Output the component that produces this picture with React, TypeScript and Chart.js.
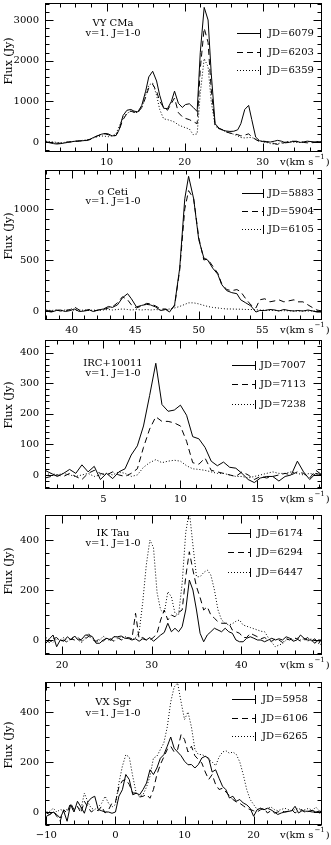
import React, { useEffect, useRef } from "react";
import { Chart, registerables } from "chart.js";

Chart.register(...registerables);

// ---------- Panel 1: VY CMa ----------
const vyCmaVelocity = [2.2,2.7,3.2,3.6,4.1,4.6,5.0,5.5,6.0,6.5,6.9,7.4,7.9,8.3,8.8,9.3,9.8,10.2,10.7,11.2,11.6,12.1,12.6,13.1,13.5,14.0,14.5,15.0,15.4,15.9,16.4,16.8,17.3,17.8,18.3,18.7,19.2,19.7,20.1,20.6,21.1,21.6,22.0,22.5,23.0,23.4,23.9,24.4,24.9,25.3,25.8,26.3,26.8,27.2,27.7,28.2,28.6,29.1,29.6,30.1,30.5,31.0,31.5,31.9,32.4,32.9,33.4,33.8,34.3,34.8,35.2,35.7,36.2,36.7,37.1,37.6];
const vyCmaJD6079 = [0,-20,-40,-50,-40,-25,-10,5,20,30,30,40,70,110,150,190,210,200,150,160,300,650,780,800,760,740,900,1250,1600,1740,1500,1150,830,820,1000,1250,950,850,920,940,850,750,2200,3310,3000,1700,450,340,290,270,260,265,300,450,800,900,550,120,30,10,0,0,20,40,20,-20,-10,10,20,-10,0,20,10,0,10,0];
const vyCmaJD6203 = [0,-10,-20,-30,-30,-15,0,5,15,20,30,35,60,100,150,180,200,180,150,160,300,550,700,760,730,730,850,1100,1330,1420,1250,1000,850,780,950,1080,720,620,580,550,500,450,1800,2800,2450,1300,400,330,300,250,220,200,180,150,170,200,130,60,10,20,10,-10,-40,-60,-40,-10,10,20,10,0,-10,-20,-20,-10,0,0];
const vyCmaJD6359 = [20,10,0,-10,-20,-10,0,10,20,30,40,50,70,100,130,150,140,130,150,200,380,600,700,760,740,720,850,1150,1400,1450,1150,800,570,550,520,490,420,380,350,320,180,200,1200,2050,1850,1000,400,320,290,250,220,190,150,110,100,110,110,70,30,0,-10,-40,-50,-40,-20,0,10,0,-10,-10,0,10,0,-10,0,10];

// ---------- Panel 2: o Ceti ----------
const oCetiVelocity = [38.0,38.4,38.8,39.1,39.5,39.9,40.2,40.6,41.0,41.4,41.7,42.1,42.5,42.9,43.2,43.6,44.0,44.4,44.7,45.1,45.5,45.9,46.2,46.6,47.0,47.4,47.7,48.1,48.5,48.9,49.2,49.6,50.0,50.4,50.7,51.1,51.5,51.8,52.2,52.6,53.0,53.3,53.7,54.1,54.5,54.8,55.2,55.6,56.0,56.3,56.7,57.1,57.5,57.8,58.2,58.6,59.0,59.3,59.7];
const oCetiJD5883 = [0,-10,5,10,-5,5,20,-5,0,10,-5,10,20,45,35,60,130,170,120,40,55,65,60,40,5,15,-10,60,420,1100,1320,1100,700,520,500,420,360,260,200,180,170,110,80,50,-10,5,5,15,10,0,15,5,0,5,0,10,0,-10,-10];
const oCetiJD5904 = [5,0,10,0,5,15,40,10,5,15,0,10,15,30,40,80,140,110,60,30,50,75,70,50,20,20,0,50,400,1000,1180,1100,720,500,510,440,370,270,210,200,210,190,120,60,30,110,120,90,100,110,90,100,110,90,90,60,30,10,0];
const oCetiJD6105 = [10,5,10,5,10,5,10,5,10,5,10,5,10,15,10,15,20,15,10,15,10,15,10,15,10,15,20,30,45,65,80,80,70,55,45,35,30,25,20,20,18,18,15,15,12,10,8,5,5,3,3,2,0,0,0,0,0,0,0];

// ---------- Panel 3: IRC+10011 ----------
const ircVelocity = [1.2,1.6,2.0,2.4,2.8,3.2,3.6,4.0,4.4,4.8,5.2,5.6,6.0,6.4,6.8,7.2,7.6,8.0,8.4,8.8,9.2,9.6,10.0,10.4,10.8,11.2,11.6,12.0,12.4,12.8,13.2,13.6,14.0,14.4,14.8,15.2,15.6,16.0,16.4,16.8,17.2,17.6,18.0,18.4,18.8,19.2];
const ircJD7007 = [15,5,-5,5,18,5,33,10,28,-15,5,-12,10,20,65,95,160,260,365,230,208,212,228,195,125,118,90,45,30,42,25,22,5,-15,-25,-10,-5,-5,-20,-5,0,45,10,-15,5,0];
const ircJD7113 = [-10,-5,0,-5,5,-5,-15,5,15,5,0,10,0,-5,5,20,90,150,190,175,175,170,160,110,40,35,55,15,10,5,0,-5,10,0,-15,-5,-10,-5,0,5,0,10,5,-10,15,0];
const ircJD7238 = [0,5,0,5,0,-5,0,5,-5,0,5,0,10,5,-5,0,25,40,50,40,45,48,45,30,20,18,15,10,5,5,0,-5,-5,-10,-5,0,5,10,5,5,10,5,0,5,0,5];

// ---------- Panel 4: IK Tau ----------
const ikTauVelocity = [18.2,18.6,19.0,19.4,19.8,20.2,20.6,21.0,21.4,21.8,22.2,22.6,23.0,23.4,23.8,24.2,24.6,25.0,25.4,25.8,26.2,26.6,27.0,27.4,27.8,28.2,28.6,29.0,29.4,29.8,30.2,30.6,31.0,31.4,31.8,32.2,32.6,33.0,33.4,33.8,34.2,34.6,35.0,35.4,35.8,36.2,36.6,37.0,37.4,37.8,38.2,38.6,39.0,39.4,39.8,40.2,40.6,41.0,41.4,41.8,42.2,42.6,43.0,43.4,43.8,44.2,44.6,45.0,45.4,45.8,46.2,46.6,47.0,47.4,47.8,48.2,48.6,49.0];
const ikTauJD6174 = [-13,5,20,-27,0,-5,13,0,16,0,3,20,20,13,-13,-13,0,7,0,13,13,16,7,7,0,5,-5,5,0,10,-5,7,20,30,67,33,47,33,53,120,240,200,120,27,-7,20,33,47,40,33,47,33,27,0,-7,-7,7,13,7,0,0,-7,0,7,0,5,0,13,7,-5,0,20,7,0,0,-13,0,0];
const ikTauJD6294 = [0,-10,5,10,-5,0,-10,5,0,10,-5,5,15,0,-5,5,-5,10,5,-5,10,0,5,10,5,107,5,10,0,0,10,27,80,120,80,100,93,110,120,253,353,280,213,170,120,133,100,87,73,67,67,67,40,33,27,10,10,27,20,13,5,10,0,-5,5,0,-10,5,0,10,5,-5,0,10,-5,5,-15,5];
const ikTauJD6447 = [10,0,-10,5,0,10,-5,5,15,0,-10,10,25,5,-10,0,15,5,-5,15,5,10,15,5,0,10,30,150,300,400,370,190,120,107,193,173,107,100,227,430,515,380,253,253,270,280,260,200,120,80,67,60,65,75,80,60,55,50,45,40,35,33,10,-10,-27,-20,-15,0,7,0,10,0,5,-5,5,-10,0,-27];

// ---------- Panel 5: VX Sgr ----------
const vxSgrVelocity = [-10,-9.5,-9,-8.5,-8,-7.5,-7,-6.5,-6,-5.5,-5,-4.5,-4,-3.5,-3,-2.5,-2,-1.5,-1,-0.5,0,0.5,1,1.5,2,2.5,3,3.5,4,4.5,5,5.5,6,6.5,7,7.5,8,8.5,9,9.5,10,10.5,11,11.5,12,12.5,13,13.5,14,14.5,15,15.5,16,16.5,17,17.5,18,18.5,19,19.5,20,20.5,21,21.5,22,22.5,23,23.5,24,24.5,25,25.5,26,26.5,27,27.5,28,28.5,29,29.5,30];
const vxSgrJD5958 = [-4,-10,0,-10,-24,5,-37,29,0,43,20,-5,40,56,63,10,5,0,0,-5,0,63,89,150,130,69,75,69,90,116,169,150,176,215,229,263,300,255,240,225,203,189,190,176,190,216,223,215,160,169,135,103,89,56,63,43,50,36,29,15,-17,9,15,9,15,9,0,-10,-4,0,2,5,23,-4,5,3,3,7,0,3,0];
const vxSgrJD6106 = [-17,-10,3,-17,-37,9,-4,36,9,23,-4,43,20,0,10,5,23,-4,9,36,40,100,125,130,110,76,76,60,63,70,55,90,150,190,220,250,263,240,250,310,290,240,263,225,210,196,160,130,150,110,90,95,80,65,50,40,35,25,15,10,5,0,9,15,-4,5,-4,0,5,0,3,10,-4,5,10,-5,3,0,5,-4,0];
const vxSgrJD6265 = [0,3,15,0,10,5,10,15,10,20,10,76,40,15,10,20,35,63,35,20,30,116,183,229,220,143,76,63,70,100,143,216,223,250,276,340,440,500,516,440,370,400,340,250,230,230,223,210,200,185,220,240,245,235,240,230,200,150,90,50,30,10,15,10,15,20,10,5,10,15,10,5,10,15,5,10,15,5,20,5,10];

// ---------- Labels ----------
const starNames = ["VY CMa", "\u03bf Ceti", "IRC+10011", "IK Tau", "VX Sgr"];
const transition = "v=1. J=1-0";
const jdLabels = [
  ["JD=6079", "JD=6203", "JD=6359"],
  ["JD=5883", "JD=5904", "JD=6105"],
  ["JD=7007", "JD=7113", "JD=7238"],
  ["JD=6174", "JD=6294", "JD=6447"],
  ["JD=5958", "JD=6106", "JD=6265"],
];
const yTitle = "Flux (Jy)";

type PanelCfg = {
  v: number[];
  series: number[][];
  jd: string[];
  name: string;
  top: number;
  bottom: number;
  xMin: number; xMax: number; yMin: number; yMax: number;
  xMajor: number; xMinor: number; yMajor: number; yMinor: number;
  legendRows: number[]; lx0: number; lx1: number; tx: number;
  titleRows: number[];
  yTitleOff: number;
};

const panels: PanelCfg[] = [
  { v: vyCmaVelocity, series: [vyCmaJD6079, vyCmaJD6203, vyCmaJD6359], jd: jdLabels[0], name: starNames[0],
    top: 3, bottom: 152, xMin: 2.1, xMax: 37.6, yMin: -246, yMax: 3418, xMajor: 10, xMinor: 2, yMajor: 1000, yMinor: 200,
    legendRows: [30, 49, 67], lx0: 237, lx1: 260, tx: 268, titleRows: [20, 30], yTitleOff: 58 },
  { v: oCetiVelocity, series: [oCetiJD5883, oCetiJD5904, oCetiJD6105], jd: jdLabels[1], name: starNames[1],
    top: 170, bottom: 320, xMin: 37.9, xMax: 59.7, yMin: -88, yMax: 1382, xMajor: 5, xMinor: 1, yMajor: 500, yMinor: 100,
    legendRows: [23, 41, 59], lx0: 242, lx1: 263, tx: 268, titleRows: [22, 31], yTitleOff: 66 },
  { v: ircVelocity, series: [ircJD7007, ircJD7113, ircJD7238], jd: jdLabels[2], name: starNames[2],
    top: 340, bottom: 489, xMin: 1.2, xMax: 19.2, yMin: -46, yMax: 441, xMajor: 5, xMinor: 1, yMajor: 100, yMinor: 20,
    legendRows: [25, 44, 64], lx0: 232, lx1: 255, tx: 260, titleRows: [23, 33], yTitleOff: 65 },
  { v: ikTauVelocity, series: [ikTauJD6174, ikTauJD6294, ikTauJD6447], jd: jdLabels[3], name: starNames[3],
    top: 515, bottom: 655, xMin: 18.1, xMax: 49.0, yMin: -60, yMax: 500, xMajor: 10, xMinor: 2, yMajor: 200, yMinor: 50,
    legendRows: [18, 37, 57], lx0: 228, lx1: 250, tx: 257, titleRows: [18, 28], yTitleOff: 56 },
  { v: vxSgrVelocity, series: [vxSgrJD5958, vxSgrJD6106, vxSgrJD6265], jd: jdLabels[4], name: starNames[4],
    top: 682, bottom: 825, xMin: -10.2, xMax: 29.9, yMin: -52, yMax: 520, xMajor: 10, xMinor: 2, yMajor: 200, yMinor: 50,
    legendRows: [17, 36, 54], lx0: 232, lx1: 255, tx: 262, titleRows: [20, 31], yTitleOff: 63 },
];

const W = 331;
const H = 845;
const FONT = "'DejaVu Serif', serif";
const dashes: number[][] = [[], [6, 4], [1, 2]];
const INK = "#000";

function tickList(min: number, max: number, step: number): number[] {
  const out: number[] = [];
  const start = Math.ceil(min / step - 1e-9);
  for (let k = start; k * step <= max + 1e-9; k++) out.push(Math.round(k * step * 1e6) / 1e6);
  return out;
}

function isMajor(v: number, major: number) {
  const r = v / major;
  return Math.abs(r - Math.round(r)) < 1e-6;
}

function makeFramePlugin(cfg: PanelCfg) {
  return {
    id: "frame",
    afterDatasetsDraw(chart: any) {
      const ctx: CanvasRenderingContext2D = chart.ctx;
      const a = chart.chartArea;
      const xs = chart.scales.x;
      const ys = chart.scales.y;
      const L = Math.round(a.left) + 0.5;
      const R = Math.round(a.right) - 0.5;
      const T = Math.round(a.top) + 0.5;
      const B = Math.round(a.bottom) - 0.5;
      ctx.save();
      ctx.strokeStyle = INK;
      ctx.lineWidth = 1;
      ctx.setLineDash([]);
      ctx.strokeRect(L, T, R - L, B - T);

      // inward ticks on all four sides
      ctx.beginPath();
      for (const v of tickList(cfg.xMin, cfg.xMax, cfg.xMinor)) {
        const len = isMajor(v, cfg.xMajor) ? 8 : 4;
        const px = Math.round(xs.getPixelForValue(v)) + 0.5;
        ctx.moveTo(px, B); ctx.lineTo(px, B - len);
        ctx.moveTo(px, T); ctx.lineTo(px, T + len);
      }
      for (const v of tickList(cfg.yMin, cfg.yMax, cfg.yMinor)) {
        const len = isMajor(v, cfg.yMajor) ? 8 : 4;
        const py = Math.round(ys.getPixelForValue(v)) + 0.5;
        ctx.moveTo(L, py); ctx.lineTo(L + len, py);
        ctx.moveTo(R, py); ctx.lineTo(R - len, py);
      }
      ctx.stroke();

      // tick labels
      ctx.fillStyle = INK;
      ctx.font = `10px ${FONT}`;
      ctx.textAlign = "center";
      ctx.textBaseline = "middle";
      for (const v of tickList(cfg.xMin, cfg.xMax, cfg.xMajor)) {
        const px = xs.getPixelForValue(v);
        ctx.fillText(v < 0 ? "\u2212" + Math.abs(v) : String(v), px, a.bottom + 10);
      }
      ctx.textAlign = "right";
      for (const v of tickList(cfg.yMin, cfg.yMax, cfg.yMajor)) {
        const py = ys.getPixelForValue(v);
        ctx.fillText(String(v), a.left - 6, py);
      }

      // x-axis label v(km s^-1)
      ctx.textAlign = "left";
      const lx = 280;
      const ly = a.bottom + 10;
      const part1 = "v(km s";
      ctx.fillText(part1, lx, ly);
      const w = ctx.measureText(part1).width;
      ctx.font = `7px ${FONT}`;
      ctx.fillText("\u22121", lx + w + 1, ly - 5);
      const w2 = ctx.measureText("\u22121").width;
      ctx.font = `10px ${FONT}`;
      ctx.fillText(")", lx + w + 2 + w2, ly);

      // star name + transition
      ctx.textAlign = "center";
      ctx.fillText(cfg.name, 113, a.top + cfg.titleRows[0]);
      ctx.fillText(transition, 113, a.top + cfg.titleRows[1]);

      // legend
      cfg.jd.forEach((label, i) => {
        const y = Math.round(a.top + cfg.legendRows[i]) + 0.5;
        ctx.beginPath();
        ctx.setLineDash(dashes[i]);
        ctx.moveTo(cfg.lx0, y);
        ctx.lineTo(cfg.lx1, y);
        ctx.stroke();
        ctx.setLineDash([]);
        ctx.beginPath();
        ctx.moveTo(cfg.lx1 + 0.5, y - 4.5);
        ctx.lineTo(cfg.lx1 + 0.5, y + 4.5);
        ctx.stroke();
        ctx.textAlign = "left";
        ctx.fillText(label, cfg.tx, y);
      });

      // y title
      ctx.save();
      ctx.font = `11px ${FONT}`;
      ctx.translate(9, a.top + cfg.yTitleOff);
      ctx.rotate(-Math.PI / 2);
      ctx.textAlign = "center";
      ctx.textBaseline = "middle";
      ctx.fillText(yTitle, 0, 0);
      ctx.restore();

      ctx.restore();
    },
  };
}

function Panel({ cfg }: { cfg: PanelCfg }) {
  const ref = useRef<HTMLCanvasElement | null>(null);
  useEffect(() => {
    if (!ref.current) return;
    const chart = new Chart(ref.current, {
      type: "line",
      data: {
        datasets: cfg.series.map((s, i) => ({
          label: cfg.jd[i],
          data: cfg.v.map((x, j) => ({ x, y: s[j] })),
          borderColor: INK,
          borderWidth: 1,
          borderDash: dashes[i],
          pointRadius: 0,
          tension: 0,
          fill: false,
        })),
      },
      options: {
        responsive: false,
        animation: false,
        devicePixelRatio: 1,
        events: [],
        layout: { padding: { left: 45, right: W - 322, top: cfg.top, bottom: H - cfg.bottom } },
        scales: {
          x: { type: "linear", min: cfg.xMin, max: cfg.xMax, display: false },
          y: { type: "linear", min: cfg.yMin, max: cfg.yMax, display: false },
        },
        plugins: { legend: { display: false }, tooltip: { enabled: false } },
      },
      plugins: [makeFramePlugin(cfg)],
    } as any);
    return () => chart.destroy();
  }, [cfg]);
  return (
    <canvas
      ref={ref}
      width={W}
      height={H}
      style={{ position: "absolute", left: 0, top: 0, width: W, height: H }}
    />
  );
}

export default function App() {
  return (
    <div style={{ position: "absolute", left: 0, top: 0, width: W, height: H, background: "#fff", overflow: "hidden" }}>
      {panels.map((p, i) => (
        <Panel key={i} cfg={p} />
      ))}
    </div>
  );
}
